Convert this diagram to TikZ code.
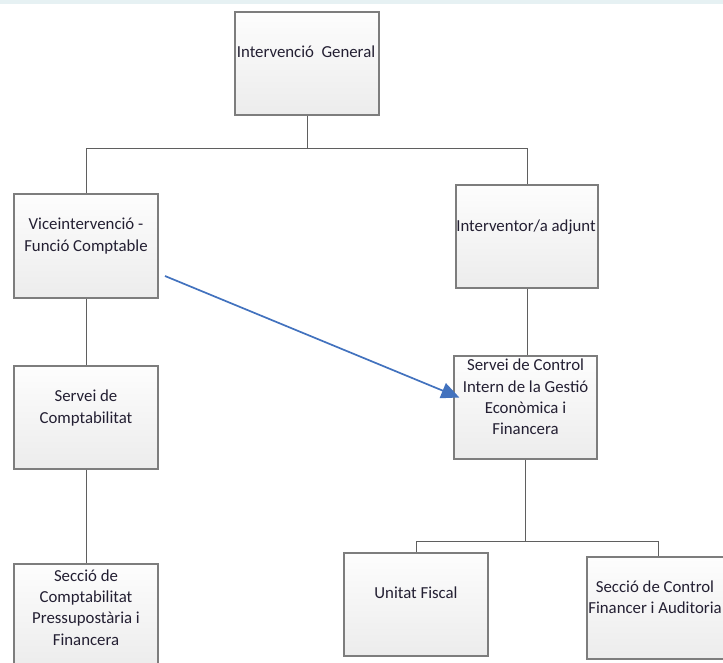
\documentclass[tikz,border=0pt]{standalone}
\usepackage{fontspec}
\setmainfont{Carlito}
\usetikzlibrary{arrows.meta}
\definecolor{boxline}{RGB}{125,125,125}
\definecolor{boxtop}{RGB}{253,253,253}
\definecolor{boxbot}{RGB}{236,236,236}
\definecolor{conn}{RGB}{95,95,95}
\definecolor{txt}{RGB}{35,31,50}
\definecolor{arrowblue}{RGB}{66,114,190}
\definecolor{band}{RGB}{230,241,243}
\begin{document}
\begin{tikzpicture}[x=1pt,y=-1pt,
  orgbox/.style={rectangle,draw=boxline,line width=1.3pt,top color=boxtop,bottom color=boxbot,
    minimum width=#1,minimum height=103pt,inner sep=0pt},
  orgtext/.style={align=center,inner sep=0pt,text=txt,font=\fontsize{16.8}{21.3}\selectfont},
  conline/.style={draw=conn,line width=1pt},
  bluearrow/.style={draw=arrowblue,line width=1.7pt,-{Triangle[length=18pt,width=16pt]}}]
\useasboundingbox (0,0) rectangle (723,662);
\clip (0,0) rectangle (723,662);
\fill[band] (0,0) rectangle (723,4);

% boxes
\node[orgbox=144pt] (ig) at (307,63.5) {};
\node[orgbox=144pt,minimum height=104pt] (vice) at (86,246) {};
\node[orgbox=142pt] (ia) at (527,236.5) {};
\node[orgbox=143pt] (sc) at (525.5,407.5) {};
\node[orgbox=144pt] (scomp) at (86,417.5) {};
\node[orgbox=144pt] (secc) at (86,615.5) {};
\node[orgbox=144pt] (uf) at (416,604.5) {};
\node[orgbox=142pt,minimum height=102pt] (scf) at (658,608) {};

% texts
\node[orgtext] (igt) at (306,52) {Intervenció\ \ General};
\node[orgtext] (vicet) at (86,236) {Viceintervenció -\\Funció Comptable};
\node[orgtext] (iat) at (526,227) {Interventor/a adjunt};
\node[orgtext] (sct) at (525.5,397) {Servei de Control\\Intern de la Gestió\\Econòmica i\\Financera};
\node[orgtext] (scompt) at (86,408) {Servei de\\Comptabilitat};
\node[orgtext] (secct) at (86,607.5) {Secció de\\Comptabilitat\\Pressupostària i\\Financera};
\node[orgtext] (uft) at (416,593) {Unitat Fiscal};
\node[orgtext] (scft) at (655,597.5) {Secció de Control\\Financer i Auditoria};

% connectors
\draw[conline] (ig.south) -- (ig.south |- 0,148) -| (vice.north);
\draw[conline] (ig.south |- 0,148) -| (ia.north);
\draw[conline] (ia.south) -- (ia.south |- sc.north);
\draw[conline] (vice.south) -- (scomp.north);
\draw[conline] (scomp.south) -- (secc.north);
\draw[conline] (sc.south) -- (sc.south |- 0,541) -| (uf.north);
\draw[conline] (sc.south |- 0,541) -| (scf.north);

% blue arrow
\coordinate (astart) at (165,276);
\draw[bluearrow] (astart) -- ([xshift=6pt,yshift=10pt]sc.west);
\end{tikzpicture}
\end{document}
